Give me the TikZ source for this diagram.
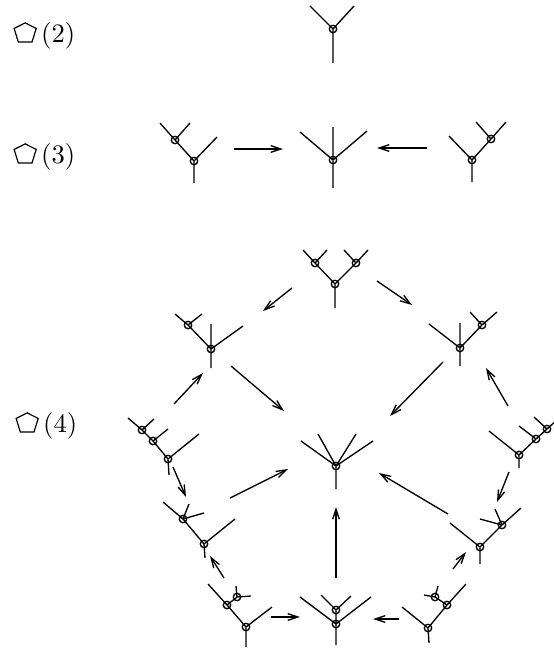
\documentclass[tikz,border=0pt]{standalone}
\usepackage{amsmath}
\usetikzlibrary{arrows.meta}

% small pentagon for the labels
\newcommand{\pent}{\tikz[baseline=0pt,x=1pt,y=1pt,line width=0.45pt]
  \draw (0,5.1) -- (4.15,7.2) -- (8.3,5.1) -- (6.72,0) -- (1.58,0) -- cycle;}

\begin{document}
\begin{tikzpicture}[x=0.376pt, y=-0.376pt, line width=0.5pt,
    arr/.style={-{Straight Barb[length=3.8pt,width=2.5pt]}},
    vtx/.style={radius=1.4pt}]
    \useasboundingbox (0,0) rectangle (554,649);

    % Labels
    \node[anchor=base west, inner sep=0] (k2) at (13,42) {\pent\,$(2)$};
    \node[anchor=base west, inner sep=0] (k3) at (13,163) {\pent\,$(3)$};
    \node[anchor=base west, inner sep=0] (k4) at (15,432) {\pent\,$(4)$};

    % K(2)
    \begin{scope}[shift={(333,29)}]
        \draw (-23,-23) -- (0,0) -- (21,-23) (0,0) -- (0,34);
        \draw (0,0) circle[vtx];
    \end{scope}

    % K(3)
    \begin{scope}[shift={(194,161)}]
        \draw (0,22) -- (0,0) -- (23,-24) (0,0) -- (-19,-21) -- ++(-15,-17) (-19,-21) -- ++(15,-17);
        \draw (0,0) circle[vtx] (-19,-21) circle[vtx];
    \end{scope}
    \begin{scope}[shift={(333,160)}]
        \draw (0,0) -- (-33,-28) (0,-33) -- (0,28) (0,0) -- (34,-29);
        \draw (0,0) circle[vtx];
    \end{scope}
    \begin{scope}[shift={(472,160)}]
        \draw (0,22) -- (0,0) -- (-23,-24) (0,0) -- (19,-21) -- ++(-15,-17) (19,-21) -- ++(15,-17);
        \draw (0,0) circle[vtx] (19,-21) circle[vtx];
    \end{scope}
    \coordinate (l3a) at (234,149);
    \coordinate (l3b) at (283,149);
    \coordinate (r3a) at (427,148);
    \coordinate (r3b) at (377,148);
    \draw[arr] (l3a) -- (l3b);
    \draw[arr] (r3a) -- (r3b);

    % K(4): vertices and edges of the pentagon
    \begin{scope}[shift={(335,284)}]
        \draw (0,24) -- (0,0) -- (-20,-21) -- ++(-12,-13) (-20,-21) -- ++(12,-13)
              (0,0) -- (21,-21) -- ++(-12,-13) (21,-21) -- ++(12,-13);
        \draw (0,0) circle[vtx] (-20,-21) circle[vtx] (21,-21) circle[vtx];
    \end{scope}
    \begin{scope}[shift={(211,349)}]
        \draw (0,19) -- (0,-25) (0,0) -- (32,-23) (0,0) -- (-23,-24) -- ++(-13,-11) (-23,-24) -- ++(14,-11);
        \draw (0,0) circle[vtx] (-23,-24) circle[vtx];
    \end{scope}
    \begin{scope}[shift={(460,348)}]
        \draw (0,18) -- (0,-25) (0,0) -- (-31,-24) (0,0) -- (22,-23) -- ++(-12,-13) (22,-23) -- ++(15,-13);
        \draw (0,0) circle[vtx] (22,-23) circle[vtx];
    \end{scope}
    \begin{scope}[shift={(168,459)}]
        \draw (1,16) -- (0,0) -- (31,-25) (0,0) -- (-15,-18) -- ++(15,-12)
              (-15,-18) -- (-26,-29) -- ++(12,-11) (-26,-29) -- ++(-14,-12);
        \draw (0,0) circle[vtx] (-15,-18) circle[vtx] (-26,-29) circle[vtx];
    \end{scope}
    \begin{scope}[shift={(519,455)}]
        \draw (0,13) -- (0,0) -- (-30,-24) (0,0) -- (17,-16) -- ++(-17,-13)
              (17,-16) -- (28,-26) -- ++(-13,-12) (28,-26) -- ++(11,-10);
        \draw (0,0) circle[vtx] (17,-16) circle[vtx] (28,-26) circle[vtx];
    \end{scope}
    \begin{scope}[shift={(204,544)}]
        \draw (1,14) -- (0,0) -- (31,-25) (0,0) -- (-21,-25) -- ++(-20,-17)
              (-21,-25) -- ++(6,-15) (-21,-25) -- ++(21,-6);
        \draw (0,0) circle[vtx] (-21,-25) circle[vtx];
    \end{scope}
    \begin{scope}[shift={(480,547)}]
        \draw (0,17) -- (0,0) -- (-30,-24) (0,0) -- (22,-22) -- ++(19,-17)
              (22,-22) -- ++(-7,-16) (22,-22) -- ++(-22,-6);
        \draw (0,0) circle[vtx] (22,-22) circle[vtx];
    \end{scope}
    \begin{scope}[shift={(246,627)}]
        \draw (0,20) -- (0,0) -- (26,-20) (0,0) -- (-19,-22) -- ++(-19,-21)
              (-19,-22) -- (-9,-30) -- ++(-1,-11) (-9,-30) -- ++(14,-1);
        \draw (0,0) circle[vtx] (-19,-22) circle[vtx] (-9,-30) circle[vtx];
    \end{scope}
    \begin{scope}[shift={(428,628)}]
        \draw (1,15) -- (0,0) -- (-26,-21) (0,0) -- (19,-23) -- ++(19,-21)
              (19,-23) -- (7,-31) -- ++(3,-11) (7,-31) -- ++(-11,-2);
        \draw (0,0) circle[vtx] (19,-23) circle[vtx] (7,-31) circle[vtx];
    \end{scope}
    \begin{scope}[shift={(336,624)}]
        \draw (0,21) -- (0,0) -- (-36,-27) (0,0) -- (35,-27) (0,0) -- (0,-14) -- ++(-15,-15) (0,-14) -- ++(15,-14);
        \draw (0,0) circle[vtx] (0,-14) circle[vtx];
    \end{scope}
    % the 2-cell
    \begin{scope}[shift={(336,466)}]
        \draw (0,23) -- (0,0) -- (-35,-25) (0,0) -- (-18,-32) (0,0) -- (20,-32) (0,0) -- (37,-25);
        \draw (0,0) circle[vtx];
    \end{scope}

    % arrow ends
    \coordinate (ab0) at (292,288);  \coordinate (ab1) at (263,311);
    \coordinate (ad0) at (377,281);  \coordinate (ad1) at (412,305);
    \coordinate (bz0) at (231,366);  \coordinate (bz1) at (284,411);
    \coordinate (dz0) at (443,362);  \coordinate (dz1) at (390,416);
    \coordinate (cb0) at (174,404);  \coordinate (cb1) at (203,373);
    \coordinate (ed0) at (508,406);  \coordinate (ed1) at (486,368);
    \coordinate (cf0) at (173,467);  \coordinate (cf1) at (186,497);
    \coordinate (ej0) at (509,472);  \coordinate (ej1) at (497,502);
    \coordinate (fz0) at (230,498);  \coordinate (fz1) at (288,469);
    \coordinate (jz0) at (448,514);  \coordinate (jz1) at (379,473);
    \coordinate (gf0) at (224,578);  \coordinate (gf1) at (210,556);
    \coordinate (ij0) at (453,569);  \coordinate (ij1) at (466,552);
    \coordinate (gh0) at (271,617);  \coordinate (gh1) at (300,617);
    \coordinate (ih0) at (399,619);  \coordinate (ih1) at (373,619);
    \coordinate (hz0) at (336,578);  \coordinate (hz1) at (336,507);

    \draw[arr] (ab0) -- (ab1);
    \draw[arr] (ad0) -- (ad1);
    \draw[arr] (bz0) -- (bz1);
    \draw[arr] (dz0) -- (dz1);
    \draw[arr] (cb0) -- (cb1);
    \draw[arr] (ed0) -- (ed1);
    \draw[arr] (cf0) -- (cf1);
    \draw[arr] (ej0) -- (ej1);
    \draw[arr] (fz0) -- (fz1);
    \draw[arr] (jz0) -- (jz1);
    \draw[arr] (gf0) -- (gf1);
    \draw[arr] (ij0) -- (ij1);
    \draw[arr] (gh0) -- (gh1);
    \draw[arr] (ih0) -- (ih1);
    \draw[arr] (hz0) -- (hz1);
\end{tikzpicture}
\end{document}
